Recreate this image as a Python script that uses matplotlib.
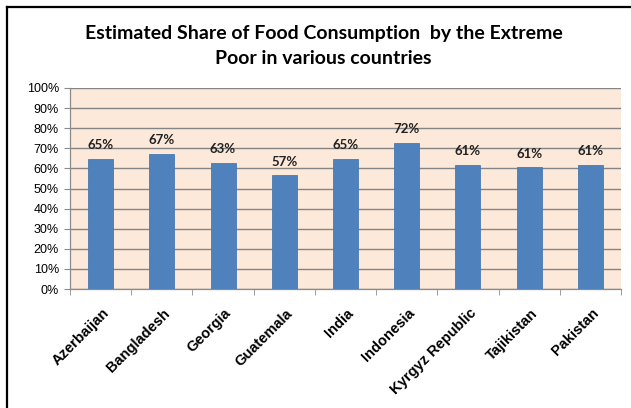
import matplotlib
matplotlib.use("Agg")
import matplotlib.pyplot as plt
from matplotlib.lines import Line2D
from matplotlib.ticker import FixedLocator, PercentFormatter
from matplotlib.transforms import ScaledTranslation

countries = ["Azerbaijan", "Bangladesh", "Georgia", "Guatemala", "India",
             "Indonesia", "Kyrgyz Republic", "Tajikistan", "Pakistan"]
shares = [0.645, 0.67, 0.625, 0.565, 0.645, 0.725, 0.615, 0.605, 0.615]
labels = ["65%", "67%", "63%", "57%", "65%", "72%", "61%", "61%", "61%"]
yticks = [0, 0.1, 0.2, 0.3, 0.4, 0.5, 0.6, 0.7, 0.8, 0.9, 1.0]

W, H = 631, 408
fig = plt.figure(figsize=(W / 100, H / 100), dpi=100)
fig.patch.set_facecolor("white")

l, r, t, b = 70, 621, 88, 289
ax = fig.add_axes([l / W, 1 - b / H, (r - l) / W, (b - t) / H])
ax.set_facecolor("#FDE9D9")

x = list(range(len(countries)))
ax.bar(x, shares, width=0.41, color="#4F81BD", edgecolor="#4A7AB5", linewidth=0.6, zorder=3)
for xi, v, lab in zip(x, shares, labels):
    ax.annotate(lab, (xi, v), xytext=(0, 10), textcoords="offset points",
                ha="center", va="center", fontsize=9.5, fontweight="bold",
                family="Lato", color="#222222", zorder=4)

ax.set_xlim(-0.5, len(countries) - 0.5)
ax.set_ylim(0, 1.0)
ax.yaxis.set_major_locator(FixedLocator(yticks))
ax.yaxis.set_major_formatter(PercentFormatter(1.0, decimals=0))
ax.grid(axis="y", color="#858585", linewidth=1.0, zorder=1)
ax.set_axisbelow(True)

ax.set_xticks(x)
ax.set_xticklabels([])
ax.tick_params(axis="x", length=0)
ax.set_xticks([i - 0.5 for i in range(len(countries) + 1)], minor=True)
ax.tick_params(axis="x", which="minor", length=4, color="#8C8C8C", direction="out")
ax.tick_params(axis="y", length=4, color="#8C8C8C", direction="out", pad=4)
for lab in ax.get_yticklabels():
    lab.set_family("Liberation Sans")
    lab.set_fontsize(9)

offset = ScaledTranslation(6 / 100, -22 / 100, fig.dpi_scale_trans)
for xi, name in zip(x, countries):
    ax.text(xi, 0, name, transform=ax.get_xaxis_transform() + offset,
            rotation=45, rotation_mode="anchor", ha="right", va="center",
            fontsize=10.5, fontweight="bold", family="Liberation Sans", clip_on=False)

for s in ["top", "right"]:
    ax.spines[s].set_visible(False)
for s in ["left", "bottom"]:
    ax.spines[s].set_color("#8C8C8C")
    ax.spines[s].set_linewidth(0.9)

cx = 0.5 * (85 + 562) / W
fig.text(cx, 1 - 33 / H, "Estimated Share of Food Consumption  by the Extreme",
         ha="center", va="center", fontsize=14, fontweight="bold", family="Lato")
fig.text(cx, 1 - 58 / H, "Poor in various countries",
         ha="center", va="center", fontsize=14, fontweight="bold", family="Lato")

# outer frame (top and left visible)
fig.add_artist(Line2D([7 / W, 1.0], [1 - 7 / H, 1 - 7 / H], color="black", linewidth=1.6,
                      transform=fig.transFigure))
fig.add_artist(Line2D([7 / W, 7 / W], [1 - 7 / H, 0], color="black", linewidth=1.6,
                      transform=fig.transFigure))

fig.savefig("out.png", dpi=100)
